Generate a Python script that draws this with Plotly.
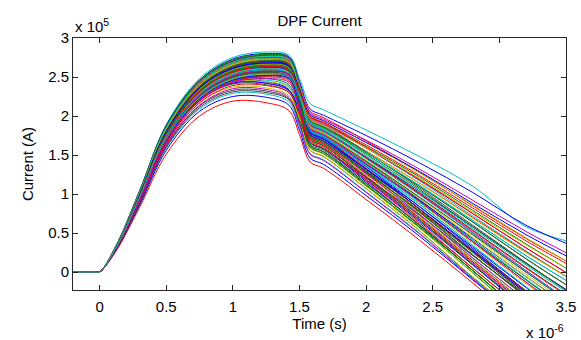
import plotly.graph_objects as go

# time axis (microseconds) and currents (x 1e5 A)
time_us = [-0.2, -0.03, 0.0, 0.12, 0.3, 0.5, 0.75, 1.0, 1.25, 1.42, 1.5, 1.58, 1.68, 2.0, 2.4, 2.8, 3.2, 3.6]

upper_curves = [
    [0, 0, 0, 0.32, 1.04, 1.89, 2.48, 2.75, 2.82, 2.78, 2.48, 2.16, 2.08, 1.82, 1.48, 1.10, 0.58, 0.36],
    [0, 0, 0, 0.32, 1.04, 1.88, 2.46, 2.73, 2.80, 2.76, 2.44, 2.09, 2.01, 1.75, 1.40, 1.02, 0.60, 0.30],
    [0, 0, 0, 0.32, 1.03, 1.86, 2.45, 2.71, 2.78, 2.74, 2.41, 2.04, 1.96, 1.69, 1.32, 0.92, 0.52, 0.16],
    [0, 0, 0, 0.31, 1.01, 1.84, 2.44, 2.70, 2.78, 2.75, 2.39, 1.99, 1.91, 1.61, 1.22, 0.79, 0.36, -0.05],
    [0, 0, 0, 0.32, 1.02, 1.85, 2.43, 2.69, 2.76, 2.72, 2.39, 2.02, 1.94, 1.66, 1.27, 0.86, 0.44, 0.05],
    [0, 0, 0, 0.31, 1.01, 1.84, 2.42, 2.68, 2.75, 2.71, 2.35, 1.94, 1.86, 1.55, 1.14, 0.70, 0.26, -0.16],
    [0, 0, 0, 0.33, 1.04, 1.87, 2.44, 2.70, 2.75, 2.70, 2.35, 1.96, 1.88, 1.54, 1.08, 0.60, 0.12, -0.35],
    [0, 0, 0, 0.31, 1.00, 1.83, 2.41, 2.67, 2.74, 2.70, 2.33, 1.92, 1.84, 1.53, 1.11, 0.66, 0.21, -0.21],
    [0, 0, 0, 0.32, 1.01, 1.83, 2.40, 2.66, 2.73, 2.69, 2.31, 1.89, 1.81, 1.47, 1.02, 0.54, 0.06, -0.40],
    [0, 0, 0, 0.31, 1.00, 1.82, 2.39, 2.65, 2.72, 2.68, 2.35, 1.99, 1.91, 1.60, 1.19, 0.75, 0.31, -0.11],
    [0, 0, 0, 0.32, 1.01, 1.83, 2.39, 2.65, 2.72, 2.67, 2.29, 1.86, 1.78, 1.42, 0.95, 0.44, -0.06, -0.55],
    [0, 0, 0, 0.31, 0.99, 1.81, 2.38, 2.64, 2.71, 2.67, 2.32, 1.94, 1.86, 1.53, 1.10, 0.64, 0.17, -0.27],
]

middle_curves = [
    [0, 0, 0, 0.31, 1.00, 1.81, 2.38, 2.63, 2.70, 2.66, 2.27, 1.84, 1.76, 1.39, 0.91, 0.39, -0.13, -0.62],
    [0, 0, 0, 0.30, 0.98, 1.79, 2.37, 2.63, 2.70, 2.67, 2.31, 1.90, 1.82, 1.47, 1.00, 0.50, 0.00, -0.48],
    [0, 0, 0, 0.31, 1.00, 1.80, 2.37, 2.62, 2.69, 2.64, 2.25, 1.82, 1.74, 1.36, 0.87, 0.34, -0.19, -0.70],
    [0, 0, 0, 0.30, 0.98, 1.79, 2.36, 2.61, 2.68, 2.65, 2.29, 1.88, 1.80, 1.47, 1.04, 0.58, 0.11, -0.33],
    [0, 0, 0, 0.31, 0.99, 1.80, 2.36, 2.61, 2.68, 2.63, 2.23, 1.79, 1.71, 1.32, 0.81, 0.27, -0.27, -0.80],
    [0, 0, 0, 0.30, 0.99, 1.79, 2.35, 2.60, 2.67, 2.63, 2.27, 1.86, 1.78, 1.41, 0.93, 0.41, -0.10, -0.60],
    [0, 0, 0, 0.30, 0.97, 1.77, 2.34, 2.59, 2.66, 2.62, 2.29, 1.92, 1.84, 1.55, 1.14, 0.69, 0.25, -0.15],
    [0, 0, 0, 0.31, 0.98, 1.78, 2.33, 2.58, 2.65, 2.60, 2.22, 1.80, 1.72, 1.33, 0.81, 0.26, -0.29, -0.80],
    [0, 0, 0, 0.30, 0.97, 1.77, 2.33, 2.58, 2.65, 2.61, 2.26, 1.84, 1.76, 1.39, 0.89, 0.37, -0.15, -0.65],
    [0, 0, 0, 0.30, 0.98, 1.77, 2.32, 2.57, 2.64, 2.59, 2.20, 1.76, 1.68, 1.29, 0.77, 0.22, -0.32, -0.85],
    [0, 0, 0, 0.30, 0.97, 1.76, 2.31, 2.56, 2.63, 2.59, 2.26, 1.89, 1.81, 1.46, 1.00, 0.51, 0.02, -0.46],
    [0, 0, 0, 0.30, 0.97, 1.76, 2.31, 2.55, 2.62, 2.57, 2.21, 1.82, 1.74, 1.35, 0.84, 0.30, -0.24, -0.76],
    [0, 0, 0, 0.30, 0.97, 1.75, 2.30, 2.55, 2.61, 2.56, 2.17, 1.74, 1.66, 1.26, 0.74, 0.18, -0.36, -0.90],
    [0, 0, 0, 0.29, 0.96, 1.74, 2.29, 2.54, 2.60, 2.56, 2.23, 1.86, 1.78, 1.43, 0.96, 0.47, -0.03, -0.50],
    [0, 0, 0, 0.30, 0.96, 1.74, 2.28, 2.53, 2.59, 2.54, 2.18, 1.78, 1.70, 1.32, 0.81, 0.28, -0.25, -0.77],
    [0, 0, 0, 0.30, 0.96, 1.73, 2.27, 2.52, 2.58, 2.53, 2.15, 1.72, 1.64, 1.23, 0.69, 0.13, -0.42, -0.95],
    [0, 0, 0, 0.29, 0.95, 1.72, 2.26, 2.51, 2.57, 2.53, 2.20, 1.84, 1.76, 1.39, 0.91, 0.39, -0.13, -0.62],
    [0, 0, 0, 0.29, 0.95, 1.72, 2.25, 2.50, 2.56, 2.51, 2.15, 1.76, 1.68, 1.29, 0.77, 0.22, -0.32, -0.85],
    [0, 0, 0, 0.29, 0.94, 1.71, 2.24, 2.49, 2.55, 2.50, 2.12, 1.70, 1.62, 1.21, 0.67, 0.10, -0.46, -1.00],
    [0, 0, 0, 0.29, 0.94, 1.70, 2.24, 2.48, 2.54, 2.50, 2.18, 1.82, 1.74, 1.36, 0.87, 0.34, -0.19, -0.70],
    [0, 0, 0, 0.29, 0.94, 1.70, 2.23, 2.47, 2.53, 2.48, 2.13, 1.74, 1.66, 1.25, 0.72, 0.16, -0.39, -0.93],
    [0, 0, 0, 0.29, 0.93, 1.69, 2.22, 2.46, 2.52, 2.48, 2.15, 1.79, 1.71, 1.32, 0.81, 0.27, -0.27, -0.80],
    [0, 0, 0, 0.29, 0.93, 1.68, 2.20, 2.44, 2.50, 2.45, 2.09, 1.68, 1.60, 1.18, 0.63, 0.05, -0.50, -1.00],
    [0, 0, 0, 0.29, 0.93, 1.68, 2.19, 2.43, 2.48, 2.43, 2.10, 1.74, 1.66, 1.26, 0.74, 0.18, -0.36, -0.90],
]

scattered_curves = [
    [0, 0, 0, 0.32, 1.02, 1.86, 2.44, 2.70, 2.77, 2.73, 2.30, 1.82, 1.74, 1.38, 0.90, 0.39, -0.10, -0.60],
    [0, 0, 0, 0.32, 1.01, 1.84, 2.41, 2.67, 2.74, 2.70, 2.25, 1.74, 1.66, 1.27, 0.76, 0.22, -0.33, -0.85],
    [0, 0, 0, 0.31, 1.00, 1.82, 2.38, 2.64, 2.71, 2.67, 2.38, 2.06, 1.98, 1.68, 1.28, 0.85, 0.43, 0.05],
    [0, 0, 0, 0.31, 0.99, 1.80, 2.37, 2.62, 2.69, 2.65, 2.20, 1.70, 1.62, 1.22, 0.70, 0.15, -0.40, -0.93],
    [0, 0, 0, 0.31, 0.99, 1.79, 2.35, 2.60, 2.67, 2.63, 2.32, 1.99, 1.91, 1.59, 1.17, 0.72, 0.27, -0.16],
    [0, 0, 0, 0.31, 0.98, 1.78, 2.34, 2.59, 2.66, 2.62, 2.17, 1.66, 1.58, 1.18, 0.65, 0.09, -0.47, -1.00],
    [0, 0, 0, 0.30, 0.98, 1.77, 2.32, 2.57, 2.64, 2.60, 2.29, 1.94, 1.86, 1.53, 1.10, 0.64, 0.17, -0.27],
    [0, 0, 0, 0.30, 0.97, 1.76, 2.31, 2.55, 2.62, 2.58, 2.14, 1.64, 1.56, 1.14, 0.60, 0.02, -0.55, -1.10],
    [0, 0, 0, 0.30, 0.97, 1.75, 2.30, 2.55, 2.61, 2.57, 2.28, 1.97, 1.89, 1.59, 1.18, 0.75, 0.31, -0.11],
    [0, 0, 0, 0.30, 0.96, 1.74, 2.29, 2.54, 2.60, 2.56, 2.20, 1.80, 1.72, 1.38, 0.92, 0.43, -0.06, -0.53],
    [0, 0, 0, 0.30, 0.95, 1.73, 2.27, 2.52, 2.58, 2.54, 2.23, 1.90, 1.82, 1.49, 1.04, 0.56, 0.09, -0.37],
    [0, 0, 0, 0.30, 0.95, 1.72, 2.26, 2.51, 2.57, 2.53, 2.10, 1.62, 1.54, 1.14, 0.61, 0.05, -0.50, -1.05],
    [0, 0, 0, 0.29, 0.94, 1.71, 2.24, 2.49, 2.55, 2.51, 2.21, 1.88, 1.80, 1.46, 1.01, 0.53, 0.05, -0.41],
    [0, 0, 0, 0.29, 0.94, 1.70, 2.23, 2.47, 2.53, 2.49, 2.10, 1.66, 1.58, 1.19, 0.67, 0.12, -0.43, -0.95],
    [0, 0, 0, 0.29, 0.93, 1.68, 2.21, 2.45, 2.51, 2.47, 2.17, 1.84, 1.76, 1.42, 0.96, 0.48, 0.00, -0.46],
    [0, 0, 0, 0.29, 0.93, 1.70, 2.25, 2.47, 2.48, 2.40, 2.02, 1.60, 1.52, 1.11, 0.58, 0.02, -0.55, -1.10],
    [0, 0, 0, 0.29, 0.92, 1.68, 2.22, 2.45, 2.46, 2.38, 2.10, 1.80, 1.72, 1.37, 0.90, 0.41, -0.09, -0.57],
    [0, 0, 0, 0.29, 0.92, 1.67, 2.21, 2.43, 2.44, 2.36, 1.98, 1.56, 1.48, 1.07, 0.53, -0.06, -0.60, -1.15],
    [0, 0, 0, 0.28, 0.91, 1.66, 2.20, 2.42, 2.42, 2.33, 2.06, 1.76, 1.68, 1.32, 0.84, 0.32, -0.20, -0.70],
    [0, 0, 0, 0.28, 0.90, 1.64, 2.17, 2.39, 2.39, 2.30, 2.02, 1.72, 1.64, 1.27, 0.79, 0.27, -0.24, -0.75],
    [0, 0, 0, 0.28, 0.89, 1.62, 2.14, 2.35, 2.34, 2.24, 1.89, 1.51, 1.43, 1.02, 0.49, -0.09, -0.65, -1.20],
    [0, 0, 0, 0.28, 0.88, 1.60, 2.11, 2.31, 2.30, 2.21, 1.94, 1.66, 1.58, 1.21, 0.73, 0.21, -0.30, -0.80],
    [0, 0, 0, 0.32, 1.03, 1.87, 2.46, 2.72, 2.79, 2.75, 2.36, 1.92, 1.84, 1.51, 1.06, 0.58, 0.11, -0.35],
    [0, 0, 0, 0.32, 1.02, 1.85, 2.43, 2.69, 2.76, 2.72, 2.32, 1.88, 1.80, 1.45, 0.99, 0.50, 0.01, -0.47],
    [0, 0, 0, 0.31, 1.01, 1.83, 2.40, 2.66, 2.73, 2.69, 2.34, 1.96, 1.88, 1.59, 1.20, 0.77, 0.35, -0.05],
    [0, 0, 0, 0.31, 1.00, 1.81, 2.38, 2.63, 2.70, 2.66, 2.24, 1.76, 1.68, 1.30, 0.81, 0.28, -0.25, -0.76],
    [0, 0, 0, 0.30, 0.99, 1.80, 2.36, 2.61, 2.68, 2.64, 2.34, 2.02, 1.94, 1.66, 1.29, 0.88, 0.48, 0.12],
    [0, 0, 0, 0.30, 0.98, 1.78, 2.33, 2.58, 2.65, 2.61, 2.20, 1.74, 1.66, 1.28, 0.78, 0.25, -0.29, -0.80],
    [0, 0, 0, 0.30, 0.97, 1.76, 2.31, 2.56, 2.63, 2.59, 2.31, 2.00, 1.92, 1.63, 1.24, 0.82, 0.40, 0.02],
    [0, 0, 0, 0.30, 0.96, 1.74, 2.28, 2.53, 2.59, 2.55, 2.25, 1.92, 1.84, 1.53, 1.11, 0.66, 0.21, -0.21],
]

lower_curves = [
    [0, 0, 0, 0.30, 0.93, 1.70, 2.24, 2.45, 2.44, 2.34, 2.02, 1.66, 1.58, 1.16, 0.60, 0.02, -0.55, -1.10],
    [0, 0, 0, 0.29, 0.93, 1.68, 2.22, 2.43, 2.42, 2.32, 2.02, 1.70, 1.62, 1.21, 0.67, 0.10, -0.45, -1.00],
    [0, 0, 0, 0.29, 0.92, 1.67, 2.20, 2.41, 2.40, 2.30, 1.98, 1.62, 1.54, 1.12, 0.57, -0.01, -0.60, -1.10],
    [0, 0, 0, 0.29, 0.90, 1.64, 2.17, 2.37, 2.36, 2.26, 1.94, 1.59, 1.51, 1.10, 0.56, 0.00, -0.56, -1.10],
    [0, 0, 0, 0.26, 0.83, 1.51, 2.00, 2.19, 2.17, 2.07, 1.76, 1.41, 1.33, 0.93, 0.41, -0.14, -0.70, -1.25],
    [0, 0, 0, 0.28, 0.89, 1.62, 2.13, 2.33, 2.32, 2.22, 1.91, 1.56, 1.48, 1.07, 0.53, -0.07, -0.62, -1.20],
    [0, 0, 0, 0.28, 0.87, 1.59, 2.09, 2.29, 2.28, 2.18, 1.87, 1.52, 1.44, 1.03, 0.50, -0.08, -0.63, -1.20],
    [0, 0, 0, 0.27, 0.86, 1.56, 2.06, 2.25, 2.24, 2.14, 1.82, 1.46, 1.38, 0.98, 0.46, -0.10, -0.65, -1.20],
]

x_tick_vals = [0, 0.5, 1, 1.5, 2, 2.5, 3, 3.5]
x_tick_text = ["0", "0.5", "1", "1.5", "2", "2.5", "3", "3.5"]
y_tick_vals = [0, 0.5, 1, 1.5, 2, 2.5, 3]
y_tick_text = ["0", "0.5", "1", "1.5", "2", "2.5", "3"]

color_cycle = ["#0000FF", "#008000", "#FF0000", "#00BFBF", "#BF00BF", "#BFBF00", "#404040"]

# interleave the groups so colours mix through the bundle, as in the reference
all_curves = []
groups = [lower_curves, scattered_curves, middle_curves, upper_curves]
longest = max(len(g) for g in groups)
for k in range(longest):
    for g in groups:
        if k < len(g):
            all_curves.append(g[k])

fig = go.Figure()
for i, row in enumerate(all_curves):
    fig.add_trace(go.Scatter(
        x=time_us, y=row, mode="lines",
        line=dict(color=color_cycle[i % len(color_cycle)], width=1, shape="spline", smoothing=1),
        showlegend=False, hoverinfo="skip",
    ))

font_family = "Liberation Sans, Arial, sans-serif"
axis_color = "#262626"
fs = 15

fig.update_layout(
    width=581, height=340,
    margin=dict(l=73, r=15, t=38, b=50, autoexpand=False),
    paper_bgcolor="white", plot_bgcolor="white",
    font=dict(family=font_family, size=fs, color="#000000"),
    title=dict(text="DPF Current", x=(73 + 566) / 2 / 581, xanchor="center",
               y=1 - 21 / 340, yanchor="middle", font=dict(size=fs)),
    xaxis=dict(range=[-0.2, 3.5], tickvals=x_tick_vals, ticktext=x_tick_text,
               ticks="inside", ticklen=5, tickcolor=axis_color, showline=True,
               linecolor=axis_color, linewidth=1, mirror="ticks", showgrid=False,
               zeroline=False, automargin=False, tickfont=dict(size=fs),
               ticklabelstandoff=3,
               title=dict(text="Time (s)", standoff=4, font=dict(size=fs))),
    yaxis=dict(range=[-0.23, 3.0], tickvals=y_tick_vals, ticktext=y_tick_text,
               ticks="inside", ticklen=5, tickcolor=axis_color, showline=True,
               linecolor=axis_color, linewidth=1, mirror="ticks", showgrid=False,
               zeroline=False, automargin=False, tickfont=dict(size=fs),
               title=dict(text="Current (A)", standoff=10, font=dict(size=fs))),
    annotations=[
        dict(text="x 10<sup>5</sup>", xref="paper", yref="paper", x=0, y=1,
             xanchor="left", yanchor="bottom", showarrow=False, yshift=1,
             font=dict(size=fs)),
        dict(text="x 10<sup>-6</sup>", xref="paper", yref="paper", x=1, y=0,
             xanchor="right", yanchor="top", showarrow=False, yshift=-30,
             font=dict(size=fs)),
    ],
)

fig.write_html("out.html")
